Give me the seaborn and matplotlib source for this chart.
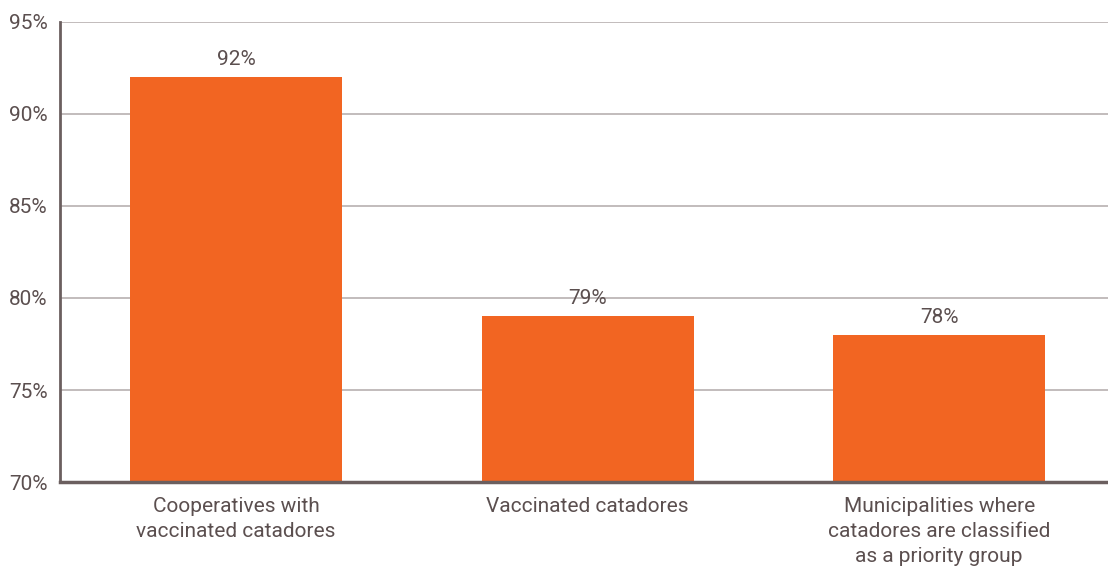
import matplotlib
matplotlib.use("Agg")
import matplotlib.pyplot as plt
import seaborn as sns
import pandas as pd

categories = ["Cooperatives with\nvaccinated catadores",
              "Vaccinated catadores",
              "Municipalities where\ncatadores are classified\nas a priority group"]
values = [92, 79, 78]
yticks = [70, 75, 80, 85, 90, 95]

sns.set_theme(style="white")
plt.rcParams['font.family'] = ['Roboto', 'DejaVu Sans']
txt = "#5b4f4f"

df = pd.DataFrame({"cat": categories, "val": values})
fig = plt.figure(figsize=(11.08, 5.68), dpi=100)
ax = fig.add_axes([0.0542, 0.1514, 0.9458, 0.8099])
sns.barplot(data=df, x="cat", y="val", color="#F26522", saturation=1, width=0.603, ax=ax, zorder=3)
for p in ax.patches:
    p.set_edgecolor("none")

ax.set_ylim(70, 95)
ax.set_xlim(-0.5, 2.48)
ax.set_yticks(yticks)
ax.set_yticklabels([f"{t}%" for t in yticks])
ax.yaxis.grid(True, color="#b8b0b0", linewidth=1.2, zorder=0)
ax.set_axisbelow(True)
ax.set_xlabel("")
ax.set_ylabel("")
for s in ["top", "right"]:
    ax.spines[s].set_visible(False)
ax.spines["left"].set_color("#6b5f5f")
ax.spines["left"].set_linewidth(2)
ax.spines["bottom"].set_color("#6b5f5f")
ax.spines["bottom"].set_linewidth(2.5)
ax.spines["bottom"].set_zorder(4)
ax.tick_params(axis="both", length=0, labelsize=15, colors=txt, pad=8)
for lbl in ax.get_xticklabels():
    lbl.set_linespacing(1.4)
ax.tick_params(axis="y", pad=9)
ax.tick_params(axis="x", pad=11)

for i, v in enumerate(values):
    ax.text(i, v + 0.45, f"{v}%", ha="center", va="bottom", fontsize=15, color=txt)

fig.savefig("out.png", dpi=100)
